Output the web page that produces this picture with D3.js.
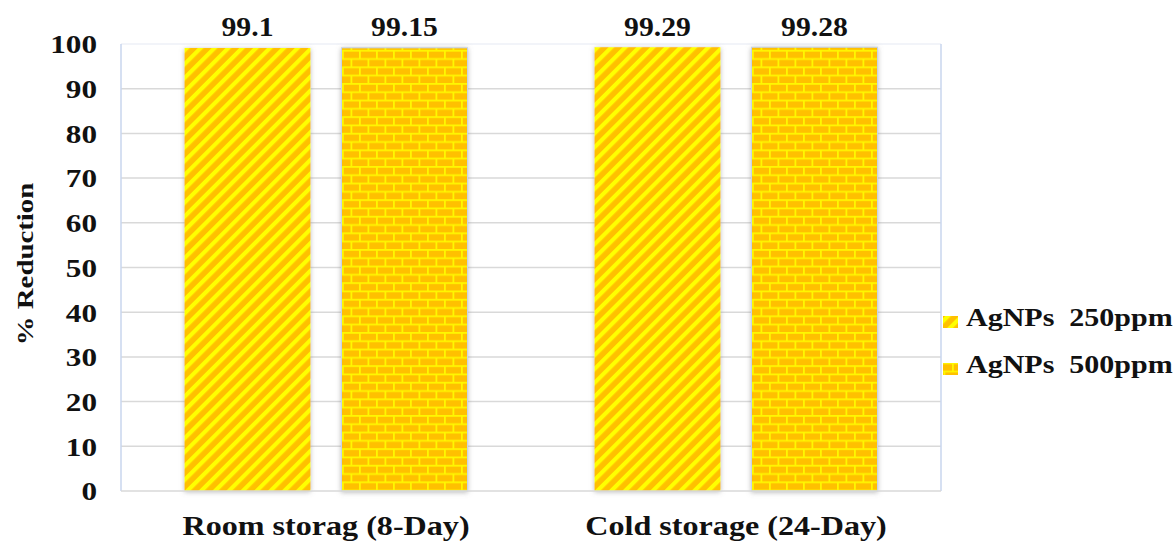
<!DOCTYPE html>
<html>
<head>
<meta charset="utf-8">
<script src="https://cdn.jsdelivr.net/npm/d3@7"></script>
<style>
  html, body { margin: 0; padding: 0; background: #fff; }
  svg { display: block; font-family: "Liberation Serif", "Times New Roman", serif; font-weight: bold; }
</style>
</head>
<body>
<svg id="chart" width="1175" height="541"></svg>
<script>
// Storage conditions on the x axis
const categories = ["Room storag (8-Day)", "Cold storage (24-Day)"];
// Treatment series
const seriesNames = ["AgNPs  250ppm", "AgNPs  500ppm"];
// % reduction per category, one array per series
const values250 = [99.1, 99.29];
const values500 = [99.15, 99.28];
const valueLabels250 = ["99.1", "99.29"];
const valueLabels500 = ["99.15", "99.28"];
const yTicks = [0, 10, 20, 30, 40, 50, 60, 70, 80, 90, 100];

const seriesValues = [values250, values500];
const seriesLabels = [valueLabels250, valueLabels500];

const svg = d3.select("#chart");
const plot = { left: 121, right: 941, top: 44, bottom: 491 };

// Widen glyphs along the text direction, keeping the anchor point fixed
function widen(sel, sx) {
  sel.attr("transform", function () {
    const t = d3.select(this);
    const x = +t.attr("x") || 0, yy = +t.attr("y") || 0;
    const prev = t.attr("transform") || "";
    return `${prev} translate(${x},${yy}) scale(${sx},1) translate(${-x},${-yy})`;
  });
}

const y = d3.scaleLinear().domain([0, 100]).range([plot.bottom, plot.top]);
const x0 = d3.scaleBand().domain(categories).range([plot.left, plot.right]).padding(0);
const x1 = d3.scaleBand().domain(d3.range(seriesNames.length))
  .range([0, x0.bandwidth()]).paddingInner(0.1975).paddingOuter(0.4045);

const defs = svg.append("defs");

// Orange fill with yellow upward diagonal stripes
const diag = defs.append("pattern").attr("id", "diag")
  .attr("patternUnits", "userSpaceOnUse").attr("width", 9.8).attr("height", 9.8)
  .attr("patternTransform", "rotate(45)");
diag.append("rect").attr("width", 9.8).attr("height", 9.8).attr("fill", "#FFC000");
diag.append("rect").attr("width", 4.2).attr("height", 9.8).attr("fill", "#FFFF00");

// Orange bricks with yellow mortar
const bw = 17, bh = 8.3;
const brick = defs.append("pattern").attr("id", "brick")
  .attr("patternUnits", "userSpaceOnUse").attr("width", bw).attr("height", bh * 2);
brick.append("rect").attr("width", bw).attr("height", bh * 2).attr("fill", "#FFF700");
brick.append("rect").attr("x", 1.8).attr("y", 1.8).attr("width", bw - 1.8).attr("height", bh - 1.8).attr("fill", "#FFC000");
brick.append("rect").attr("x", bw / 2 + 1.8).attr("y", bh + 1.8).attr("width", bw / 2 - 1.8).attr("height", bh - 1.8).attr("fill", "#FFC000");
brick.append("rect").attr("x", 0).attr("y", bh + 1.8).attr("width", bw / 2).attr("height", bh - 1.8).attr("fill", "#FFC000");

const patterns = ["url(#diag)", "url(#brick)"];

// Soft grey glow behind the bars
const f = defs.append("filter").attr("id", "shadow")
  .attr("x", "-20%").attr("y", "-5%").attr("width", "140%").attr("height", "110%");
f.append("feDropShadow").attr("dx", 0).attr("dy", 1).attr("stdDeviation", 2.5)
  .attr("flood-color", "#7f7f7f").attr("flood-opacity", 0.55);

// Gridlines
svg.append("g").selectAll("line").data(yTicks.filter(d => d > 0)).join("line")
  .attr("x1", plot.left).attr("x2", plot.right)
  .attr("y1", d => y(d)).attr("y2", d => y(d))
  .attr("stroke", d => d === 100 ? "#EEF1F7" : "#D9D9D9").attr("stroke-width", 1.5);

// Plot area side borders
svg.append("line").attr("x1", plot.left).attr("x2", plot.left).attr("y1", plot.top).attr("y2", plot.bottom)
  .attr("stroke", "#C9D6EE").attr("stroke-width", 1.5);
svg.append("line").attr("x1", plot.right).attr("x2", plot.right).attr("y1", plot.top).attr("y2", plot.bottom)
  .attr("stroke", "#C9D6EE").attr("stroke-width", 1.5);

// Bars
const barData = (c, ci) => seriesValues.map((vals, si) => ({ si, v: vals[ci], label: seriesLabels[si][ci] }));
const groups = svg.append("g").selectAll("g").data(categories).join("g")
  .attr("transform", d => `translate(${x0(d)},0)`);
groups.selectAll("rect").data(barData)
  .join("rect")
  .attr("x", d => x1(d.si)).attr("width", x1.bandwidth())
  .attr("y", d => y(d.v)).attr("height", d => y(0) - y(d.v))
  .attr("fill", d => patterns[d.si])
  .attr("stroke", d => d.si === 1 ? "#C5D3EA" : "none").attr("stroke-width", 1)
  .attr("filter", "url(#shadow)");

// Category axis line
svg.append("line").attr("x1", plot.left).attr("x2", plot.right).attr("y1", plot.bottom).attr("y2", plot.bottom)
  .attr("stroke", "#D9D9D9").attr("stroke-width", 1.5);

// Value labels above bars
groups.selectAll("text").data(barData)
  .join("text")
  .attr("x", d => x1(d.si) + x1.bandwidth() / 2).attr("y", 36)
  .attr("text-anchor", "middle").attr("font-size", 27).attr("fill", "#111")
  .text(d => d.label)
  .call(widen, 1.1);

// Y axis tick labels
const yAxis = d3.axisLeft(y).tickValues(yTicks).tickSize(0).tickPadding(0);
const ya = svg.append("g").attr("transform", "translate(97,0)").call(yAxis)
  .attr("font-family", null).attr("font-size", null);
ya.select(".domain").remove();
ya.selectAll("text").attr("font-size", 26).attr("font-family", "Liberation Serif")
  .attr("font-weight", "bold").attr("fill", "#111").attr("dy", "0.34em")
  .call(widen, 1.2);

// X axis category labels
const xa = svg.append("g").attr("transform", `translate(0,${535})`)
  .call(d3.axisBottom(x0).tickSize(0).tickPadding(0))
  .attr("font-family", null).attr("font-size", null);
xa.select(".domain").remove();
xa.selectAll("text").attr("font-size", 27).attr("font-family", "Liberation Serif")
  .attr("font-weight", "bold").attr("fill", "#111").attr("dy", 0).attr("y", 0)
  .call(widen, 1.19);

// Y axis title
svg.append("g").attr("transform", "translate(33,264) rotate(-90)")
  .append("text")
  .attr("text-anchor", "middle").attr("font-size", 24).attr("fill", "#111")
  .text("% Reduction")
  .call(widen, 1.2);

// Legend
const legend = svg.append("g").selectAll("g").data(seriesNames).join("g")
  .attr("transform", (d, i) => `translate(0,${i * 47})`);
legend.append("rect").attr("x", 943).attr("y", 316).attr("width", 15).attr("height", 12)
  .attr("fill", (d, i) => patterns[i]);
legend.append("text").attr("x", 966).attr("y", 326).attr("font-size", 25).attr("fill", "#111")
  .style("white-space", "pre").text(d => d)
  .call(widen, 1.2);
</script>
</body>
</html>
